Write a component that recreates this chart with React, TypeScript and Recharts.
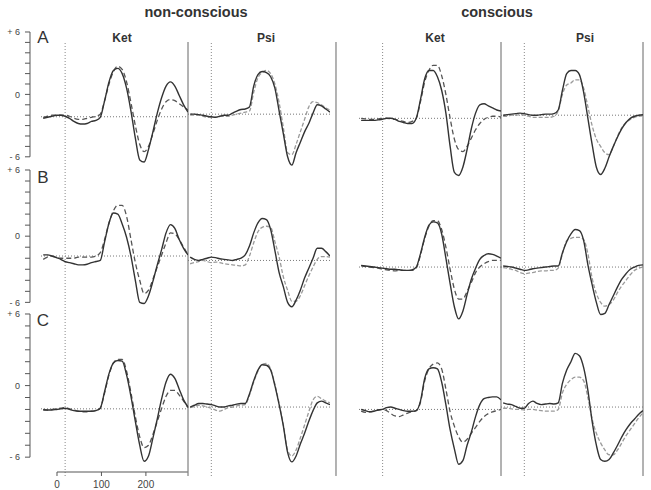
import React from 'react';
import { LineChart, Line, XAxis, YAxis, ReferenceLine } from 'recharts';

// time points (ms) shared by all panels
const times = [-50, -40, -30, -20, -10, 0, 10, 20, 30, 40, 50, 60, 70, 80, 90, 100, 110, 120, 130, 140, 150, 160, 170, 180, 190, 200, 210, 220, 230, 240, 250, 260, 270, 280];

// Row A
const ncKetA_s = [-2.3, -2.2, -2.1, -2.0, -2.0, -2.1, -2.3, -2.6, -2.8, -2.85, -2.8, -2.6, -2.5, -2.2, -0.6, 1.2, 2.3, 2.5, 2.0, 0.6, -1.6, -4.2, -6.3, -6.5, -5.3, -3.6, -1.8, -0.3, 0.8, 1.2, 0.8, -0.1, -1.0, -1.7];
const ncKetA_d = [-2.2, -2.1, -2.0, -2.0, -2.0, -2.0, -2.1, -2.3, -2.4, -2.4, -2.3, -2.2, -2.1, -1.9, -0.6, 1.0, 2.2, 2.7, 2.4, 1.2, -0.8, -3.0, -4.8, -5.5, -5.0, -3.8, -2.5, -1.4, -0.7, -0.5, -0.6, -0.9, -1.2, -1.5];
const ncPsiA_s = [-1.9, -1.9, -1.95, -2.0, -2.1, -2.15, -2.2, -2.1, -2.0, -2.0, -1.8, -1.6, -1.45, -1.4, -1.2, 0.8, 1.9, 2.2, 2.1, 1.7, 0.6, -1.6, -3.8, -6.0, -6.8, -5.6, -4.6, -3.6, -2.8, -1.8, -1.0, -1.1, -1.4, -1.7];
const ncPsiA_d = [-2.0, -2.0, -2.0, -2.1, -2.2, -2.2, -2.2, -2.1, -2.1, -2.1, -2.0, -1.9, -1.8, -1.7, -1.6, 0.2, 1.6, 2.1, 2.3, 2.0, 1.0, -0.8, -3.2, -5.6, -5.8, -4.8, -3.6, -2.4, -1.2, -0.7, -0.8, -1.0, -1.3, -1.5];
const cKetA_s = [-2.5, -2.5, -2.5, -2.5, -2.45, -2.4, -2.3, -2.3, -2.4, -2.6, -2.7, -2.8, -2.8, -2.3, -0.5, 1.5, 2.3, 2.3, 1.7, 0.4, -1.8, -5.0, -7.5, -7.8, -7.0, -5.3, -3.3, -1.8, -1.0, -0.9, -1.1, -1.3, -1.5, -1.6];
const cKetA_d = [-2.3, -2.35, -2.4, -2.4, -2.35, -2.3, -2.3, -2.35, -2.4, -2.5, -2.6, -2.7, -2.6, -2.3, -0.7, 1.2, 2.3, 2.8, 2.8, 1.8, 0.0, -2.3, -4.3, -5.3, -5.5, -5.0, -4.2, -3.4, -2.8, -2.4, -2.2, -2.1, -2.1, -2.2];
const cPsiA_s = [-2.0, -1.95, -1.9, -1.85, -1.8, -1.85, -1.95, -2.0, -2.0, -1.95, -1.9, -1.9, -1.85, -1.5, 0.4, 2.0, 2.3, 2.3, 1.9, 0.2, -2.3, -4.8, -7.0, -7.7, -7.1, -6.0, -5.0, -4.1, -3.3, -2.7, -2.3, -2.1, -2.0, -1.95];
const cPsiA_d = [-2.1, -2.1, -2.0, -2.0, -1.95, -2.0, -2.1, -2.2, -2.2, -2.2, -2.2, -2.2, -2.1, -1.6, 0.0, 0.9, 1.1, 1.4, 1.4, 0.6, -1.2, -3.0, -4.3, -5.0, -5.6, -5.8, -5.0, -4.0, -3.2, -2.7, -2.4, -2.2, -2.1, -2.05];

// Row B
const ncKetB_s = [-1.7, -1.7, -1.8, -1.95, -2.1, -2.3, -2.4, -2.5, -2.6, -2.6, -2.55, -2.4, -2.3, -2.2, -0.5, 1.2, 2.1, 2.0, 1.1, -0.1, -1.8, -4.0, -6.0, -6.1, -5.4, -4.1, -2.6, -1.2, 0.3, 1.05, 0.7, -0.3, -1.1, -1.7];
const ncKetB_d = [-2.1, -1.9, -1.8, -1.9, -2.0, -2.0, -2.0, -2.0, -1.9, -1.9, -1.9, -1.9, -1.8, -1.5, -0.3, 1.2, 2.3, 2.8, 2.8, 1.8, -0.3, -2.4, -4.0, -5.2, -4.9, -3.9, -2.8, -1.7, -0.6, 0.3, 0.2, -0.3, -1.0, -1.7];
const ncPsiB_s = [-1.9, -2.1, -2.2, -2.1, -2.0, -1.9, -1.95, -2.05, -2.1, -2.15, -2.2, -2.1, -2.0, -1.7, -0.9, 0.3, 1.2, 1.6, 1.5, 0.6, -1.3, -3.3, -4.6, -6.0, -6.4, -5.8, -4.9, -3.8, -2.9, -2.0, -1.1, -1.1, -1.4, -1.8];
const ncPsiB_d = [-2.5, -2.4, -2.3, -2.2, -2.3, -2.4, -2.35, -2.4, -2.5, -2.55, -2.6, -2.65, -2.7, -2.6, -1.8, -0.6, 0.4, 0.8, 0.9, 0.8, -0.5, -1.9, -3.7, -4.9, -5.9, -5.9, -5.4, -4.5, -3.6, -2.8, -2.1, -1.85, -1.85, -1.9];
const cKetB_s = [-2.65, -2.7, -2.75, -2.8, -2.85, -2.9, -2.95, -3.0, -3.0, -3.05, -3.1, -3.1, -3.05, -2.8, -1.6, -0.1, 1.0, 1.3, 1.2, 0.2, -2.0, -4.3, -6.4, -7.5, -6.8, -5.3, -3.9, -2.9, -2.1, -1.75, -1.6, -1.65, -1.8, -2.0];
const cKetB_d = [-2.7, -2.75, -2.8, -2.85, -2.9, -3.0, -3.05, -3.1, -3.15, -3.1, -3.1, -3.1, -3.1, -2.9, -1.7, -0.2, 0.9, 1.4, 1.4, 0.6, -1.0, -3.0, -4.8, -5.7, -5.7, -5.0, -4.2, -3.3, -2.8, -2.5, -2.3, -2.2, -2.2, -2.2];
const cPsiB_s = [-2.7, -2.75, -2.8, -2.9, -3.0, -3.1, -3.05, -2.95, -2.9, -2.85, -2.8, -2.75, -2.7, -2.7, -1.5, -0.5, 0.2, 0.6, 0.5, -0.4, -2.6, -4.4, -6.0, -7.1, -7.0, -6.2, -5.4, -4.6, -3.9, -3.4, -3.0, -2.8, -2.65, -2.6];
const cPsiB_d = [-2.85, -2.9, -3.0, -3.1, -3.3, -3.4, -3.35, -3.3, -3.2, -3.15, -3.15, -3.1, -3.1, -2.9, -1.6, -0.4, -0.2, -0.1, -0.1, -0.3, -1.6, -3.8, -5.2, -6.0, -6.35, -6.2, -5.8, -5.1, -4.5, -4.0, -3.5, -3.1, -2.9, -2.8];

// Row C
const ncKetC_s = [-2.05, -2.05, -2.05, -2.0, -1.95, -1.9, -2.0, -2.1, -2.15, -2.15, -2.15, -2.15, -2.1, -1.9, -0.5, 1.0, 1.9, 2.1, 2.05, 0.9, -0.9, -3.0, -5.0, -6.35, -5.9, -4.4, -2.8, -1.1, 0.3, 0.95, 0.6, -0.3, -1.2, -1.8];
const ncKetC_d = [-2.0, -2.05, -2.0, -1.95, -1.9, -1.85, -1.95, -2.05, -2.15, -2.2, -2.2, -2.15, -2.1, -1.9, -0.6, 0.9, 1.9, 2.2, 2.2, 1.2, -0.6, -2.6, -4.3, -5.2, -5.0, -4.1, -3.0, -1.9, -0.9, -0.4, -0.4, -0.8, -1.3, -1.85];
const ncPsiC_s = [-1.8, -1.65, -1.5, -1.5, -1.55, -1.6, -1.7, -1.8, -1.8, -1.7, -1.65, -1.55, -1.5, -1.5, -0.7, 0.4, 1.3, 1.75, 1.7, 1.3, 0.0, -1.6, -3.4, -5.6, -6.4, -5.9, -4.9, -4.0, -3.0, -2.1, -1.45, -1.3, -1.45, -1.6];
const ncPsiC_d = [-1.85, -1.75, -1.65, -1.7, -1.8, -1.9, -2.05, -2.15, -2.0, -1.85, -1.8, -1.7, -1.65, -1.6, -0.8, 0.3, 1.2, 1.8, 1.85, 1.4, 0.1, -1.5, -3.3, -5.4, -5.9, -5.4, -4.4, -3.3, -2.2, -1.2, -0.9, -1.1, -1.3, -1.45];
const cKetC_s = [-2.0, -2.1, -2.2, -2.15, -2.05, -2.0, -1.85, -1.8, -1.9, -2.0, -2.1, -2.15, -2.15, -2.1, -1.3, 0.6, 1.4, 1.5, 1.4, 0.3, -1.6, -3.7, -5.3, -6.6, -6.3, -5.0, -3.9, -2.6, -1.6, -1.1, -1.0, -0.95, -0.95, -1.2];
const cKetC_d = [-2.15, -2.25, -2.2, -2.15, -2.05, -2.0, -2.1, -2.35, -2.55, -2.6, -2.45, -2.3, -2.2, -2.1, -1.4, 0.4, 1.4, 1.8, 1.9, 1.4, -0.3, -2.2, -3.4, -4.3, -4.75, -4.5, -4.0, -3.5, -3.0, -2.6, -2.35, -2.2, -2.1, -2.0];
const cPsiC_s = [-1.45, -1.55, -1.6, -1.75, -1.9, -1.9, -1.5, -1.3, -1.5, -1.6, -1.55, -1.5, -1.55, -1.45, 0.2, 1.3, 2.0, 2.7, 2.5, 1.5, -0.4, -3.0, -5.0, -6.2, -6.35, -6.2, -5.65, -5.0, -4.3, -3.7, -3.2, -2.8, -2.4, -2.1];
const cPsiC_d = [-1.9, -1.9, -1.95, -2.0, -2.0, -2.05, -2.0, -2.0, -2.05, -2.1, -2.15, -2.15, -2.15, -2.0, -0.6, 0.1, 0.5, 0.7, 0.7, 0.4, -1.0, -2.8, -4.0, -4.8, -5.4, -5.8, -5.8, -5.4, -4.8, -4.2, -3.7, -3.2, -2.7, -2.3];

// dotted baselines per panel (NC Ket, NC Psi, C Ket, C Psi)
const baselineA = [-2.15, -1.9, -2.3, -2.0];
const baselineB = [-1.8, -2.2, -2.8, -2.8];
const baselineC = [-1.95, -1.8, -2.0, -1.8];

const rowLetters = ['A', 'B', 'C'];
const groupTitles = ['non-conscious', 'conscious'];
const drugLabels = ['Ket', 'Psi'];
const yTicks = [-6, -5, -4, -3, -2, -1, 0, 1, 2, 3, 4, 5, 6];
const xTicks = [0, 100, 200];

// ---- layout ----
const FONT = '"Liberation Sans", Arial, sans-serif';
const columns = [
  { left: 41, width: 147, light: false },
  { left: 188, width: 142, light: true },
  { left: 359, width: 142, light: false },
  { left: 501, width: 142, light: true },
];
const rows = [
  { zero: 94.3, ppu: 10.4, panels: [[ncKetA_s, ncKetA_d], [ncPsiA_s, ncPsiA_d], [cKetA_s, cKetA_d], [cPsiA_s, cPsiA_d]], base: baselineA, letterY: 37 },
  { zero: 236, ppu: 11.03, panels: [[ncKetB_s, ncKetB_d], [ncPsiB_s, ncPsiB_d], [cKetB_s, cKetB_d], [cPsiB_s, cPsiB_d]], base: baselineB, letterY: 177 },
  { zero: 386, ppu: 11.93, panels: [[ncKetC_s, ncKetC_d], [ncPsiC_s, ncPsiC_d], [cKetC_s, cKetC_d], [cPsiC_s, cPsiC_d]], base: baselineC, letterY: 320 },
];
const DOMAIN_T: [number, number] = [-55, 280];
const Y_TOP = 6;
const Y_BOT = -9;

function Panel({ left, top, width, height, solid, dashed, baseline, light }: any) {
  const data = times.map((t, i) => ({ t, s: solid[i], d: dashed[i] }));
  return (
    <div style={{ position: 'absolute', left, top }}>
      <LineChart width={width} height={height} data={data} margin={{ top: 0, right: 0, bottom: 0, left: 0 }}>
        <XAxis dataKey="t" type="number" domain={DOMAIN_T} hide allowDataOverflow />
        <YAxis type="number" domain={[Y_BOT, Y_TOP]} hide allowDataOverflow />
        <ReferenceLine y={baseline} stroke="#777" strokeWidth={1} strokeDasharray="1 2" />
        <Line dataKey="d" type="monotone" stroke={light ? '#9a9a9a' : '#555'} strokeWidth={1.3}
          strokeDasharray={light ? '4 2' : '5 3'} dot={false} isAnimationActive={false} />
        <Line dataKey="s" type="monotone" stroke="#333" strokeWidth={1.4} dot={false} isAnimationActive={false} />
      </LineChart>
    </div>
  );
}

function Frame({ left, width, domain, solids }: any) {
  const top = 42;
  const height = 434;
  const data = [{ t: domain[0], y: 0 }, { t: domain[1], y: 1 }];
  return (
    <div style={{ position: 'absolute', left: left - 2, top }}>
      <LineChart width={width + 4} height={height} data={data} margin={{ top: 0, right: 2, bottom: 0, left: 2 }}>
        <XAxis dataKey="t" type="number" domain={domain} hide allowDataOverflow />
        <YAxis type="number" domain={[0, 1]} hide />
        <Line dataKey="y" stroke="none" dot={false} isAnimationActive={false} />
        <ReferenceLine x={0} stroke="#888" strokeWidth={1} strokeDasharray="1 2" />
        {solids.map((x: number) => (
          <ReferenceLine key={x} x={x} stroke="#666" strokeWidth={1} />
        ))}
      </LineChart>
    </div>
  );
}

function RowAxis({ zero, ppu }: any) {
  const plotTop = zero - 6 * ppu;
  const plotH = 12 * ppu;
  const fmt = (v: number) => (v === 6 ? '+ 6' : v === 0 ? '0' : v === -6 ? '- 6' : '');
  const data = [{ x: 0, y: -6 }, { x: 1, y: 6 }];
  return (
    <div style={{ position: 'absolute', left: 0, top: plotTop - 8 }}>
      <LineChart width={36} height={plotH + 16} data={data} margin={{ top: 8, right: 0, bottom: 8, left: 0 }}>
        <XAxis dataKey="x" type="number" hide />
        <YAxis type="number" domain={[-6, 6]} ticks={yTicks} interval={0} width={30} tickSize={5} tickMargin={5}
          tickFormatter={fmt} stroke="#555" tick={{ fontSize: 9, fill: '#444', fontFamily: FONT }} />
        <Line dataKey="y" stroke="none" dot={false} isAnimationActive={false} />
      </LineChart>
    </div>
  );
}

function BottomAxis() {
  const data = [{ t: 0, y: 0 }, { t: 294, y: 1 }];
  return (
    <div style={{ position: 'absolute', left: 47.3, top: 461.5 }}>
      <LineChart width={155.7} height={29} data={data} margin={{ top: 0, right: 15, bottom: 0, left: 10 }}>
        <XAxis dataKey="t" type="number" domain={[0, 294]} ticks={xTicks} interval={0} height={19} tickSize={4} tickMargin={5}
          stroke="#555" tick={{ fontSize: 10, fill: '#444', fontFamily: FONT }} />
        <YAxis type="number" domain={[0, 1]} hide />
        <Line dataKey="y" stroke="none" dot={false} isAnimationActive={false} />
      </LineChart>
    </div>
  );
}

const centered = (x: number, y: number, size: number, bold: boolean) => ({
  position: 'absolute' as const,
  left: x,
  top: y,
  transform: 'translate(-50%, -50%)',
  fontFamily: FONT,
  fontSize: size,
  fontWeight: bold ? 700 : 400,
  color: '#333',
  whiteSpace: 'nowrap' as const,
  lineHeight: 1,
});

export default function App() {
  return (
    <div style={{ position: 'fixed', left: 0, top: 0, width: 651, height: 490, overflow: 'hidden', background: '#fff' }}>
      {/* vertical frame lines */}
      <Frame left={41} width={147} domain={[-55, 280]} solids={[]} />
      <Frame left={188} width={142} domain={[-55, 280]} solids={[-55]} />
      <Frame left={335.7} width={165.3} domain={[-110, 280]} solids={[-110]} />
      <Frame left={501} width={142} domain={[-55, 280]} solids={[-55, 280]} />

      {rows.map((r, ri) => (
        <React.Fragment key={ri}>
          {r.panels.map((p, ci) => (
            <Panel key={ci} left={columns[ci].left} width={columns[ci].width}
              top={r.zero - Y_TOP * r.ppu} height={(Y_TOP - Y_BOT) * r.ppu}
              solid={p[0]} dashed={p[1]} baseline={r.base[ci]} light={columns[ci].light} />
          ))}
          <RowAxis zero={r.zero} ppu={r.ppu} />
          <div style={centered(43, r.letterY, 17, false)}>{rowLetters[ri]}</div>
        </React.Fragment>
      ))}

      <BottomAxis />

      <div style={centered(196, 12, 14.5, true)}>{groupTitles[0]}</div>
      <div style={centered(497, 12, 14.5, true)}>{groupTitles[1]}</div>
      <div style={centered(122, 38, 12, true)}>{drugLabels[0]}</div>
      <div style={centered(266, 38, 12, true)}>{drugLabels[1]}</div>
      <div style={centered(435, 38, 12, true)}>{drugLabels[0]}</div>
      <div style={centered(585, 38, 12, true)}>{drugLabels[1]}</div>
    </div>
  );
}
